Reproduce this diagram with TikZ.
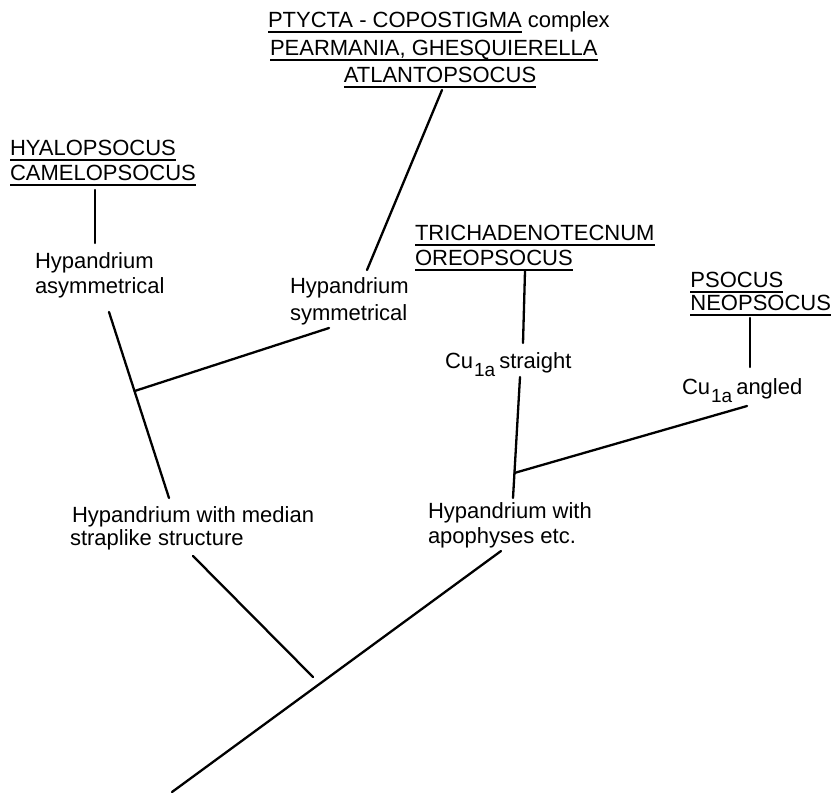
\documentclass[tikz,border=0pt]{standalone}
\usepackage{fontspec}
\setmainfont{Liberation Sans}
\usetikzlibrary{calc}
\newcommand{\lblfont}{\fontsize{22}{25}\selectfont}
\newcommand{\subfont}{\fontsize{19}{19}\selectfont}
\newcommand{\cuone}{Cu\kern1pt\raisebox{-8pt}{\subfont 1a}\kern4pt}
\begin{document}
\begin{tikzpicture}[x=1pt,y=-1pt,
  lbl/.style={inner sep=0pt,outer sep=0pt,anchor=base west,font=\lblfont},
  branch/.style={line width=2.3pt,line cap=round},
  uline/.style={line width=1.8pt}]
\useasboundingbox (0,0) rectangle (834,796);
% ---- top group
\node[lbl] (ptyc) at (268,27) {PTYCTA - COPOSTIGMA};
\node[lbl] (cplx) at ([xshift=6pt]ptyc.base east) {complex};
\node[lbl] (pear) at (270,55) {PEARMANIA, GHESQUIERELLA};
\node[lbl,anchor=base] (atla) at (440,82) {ATLANTOPSOCUS};
% ---- left group
\node[lbl] (hyal) at (10,155) {HYALOPSOCUS};
\node[lbl] (came) at (10,180) {CAMELOPSOCUS};
\node[lbl] (asyA) at (35,268) {Hypandrium};
\node[lbl] (asyB) at (35,293) {asymmetrical};
\node[lbl] (symA) at (290,293) {Hypandrium};
\node[lbl] (symB) at (290,320) {symmetrical};
\node[lbl] (medA) at (72,522) {Hypandrium with median};
\node[lbl] (medB) at (70,545) {straplike structure};
% ---- right group
\node[lbl] (triA) at (415,240) {TRICHADENOTECNUM};
\node[lbl] (triB) at (415,265) {OREOPSOCUS};
\node[lbl] (cus) at (445,368) {\cuone straight};
\node[lbl,anchor=base east] (psoB) at (831,310) {NEOPSOCUS};
\node[lbl] (psoA) at (psoB.base west |- 0,287) {PSOCUS};
\node[lbl] (cua) at (682,394) {\cuone angled};
\node[lbl] (apoA) at (428,518) {Hypandrium with};
\node[lbl] (apoB) at (428,543) {apophyses etc.};
% ---- underlines
\foreach \n in {ptyc,pear,atla,hyal,came,triA,triB,psoA,psoB}
  \draw[uline] ([yshift=-5pt]\n.base west) -- ([yshift=-5pt]\n.base east);
% ---- connector end points
\coordinate (atlaEnd) at (442,90);
\coordinate (symTop) at (367,270);
\coordinate (cameEnd) at (95,190);
\coordinate (asyTop) at (95,243);
\coordinate (asyLow) at (109,312);
\coordinate (medTop) at (169,498);
\coordinate (j1) at ($(asyLow)!0.425!(medTop)$);
\coordinate (symLow) at (329,328);
\coordinate (medLow) at (193,556);
\coordinate (medEnd) at (313,677);
\coordinate (root) at (172,792);
\coordinate (apoLow) at (501,551);
\coordinate (triEnd) at (525,271);
\coordinate (cusTop) at (523,343);
\coordinate (cusLow) at (520,377);
\coordinate (apoTop) at (513,498);
\coordinate (j2) at ($(cusLow)!0.793!(apoTop)$);
\coordinate (cuaLow) at (747,406);
\coordinate (psoEnd) at (750,318);
\coordinate (cuaTop) at (750,367);
% ---- connectors
\draw[branch] (atlaEnd) -- (symTop);
\draw[branch] (cameEnd) -- (asyTop);
\draw[branch] (asyLow) -- (medTop);
\draw[branch] (j1) -- (symLow);
\draw[branch] (medLow) -- (medEnd);
\draw[branch] (root) -- (apoLow);
\draw[branch] (triEnd) -- (cusTop);
\draw[branch] (cusLow) -- (apoTop);
\draw[branch] (j2) -- (cuaLow);
\draw[branch] (psoEnd) -- (cuaTop);
\end{tikzpicture}
\end{document}
